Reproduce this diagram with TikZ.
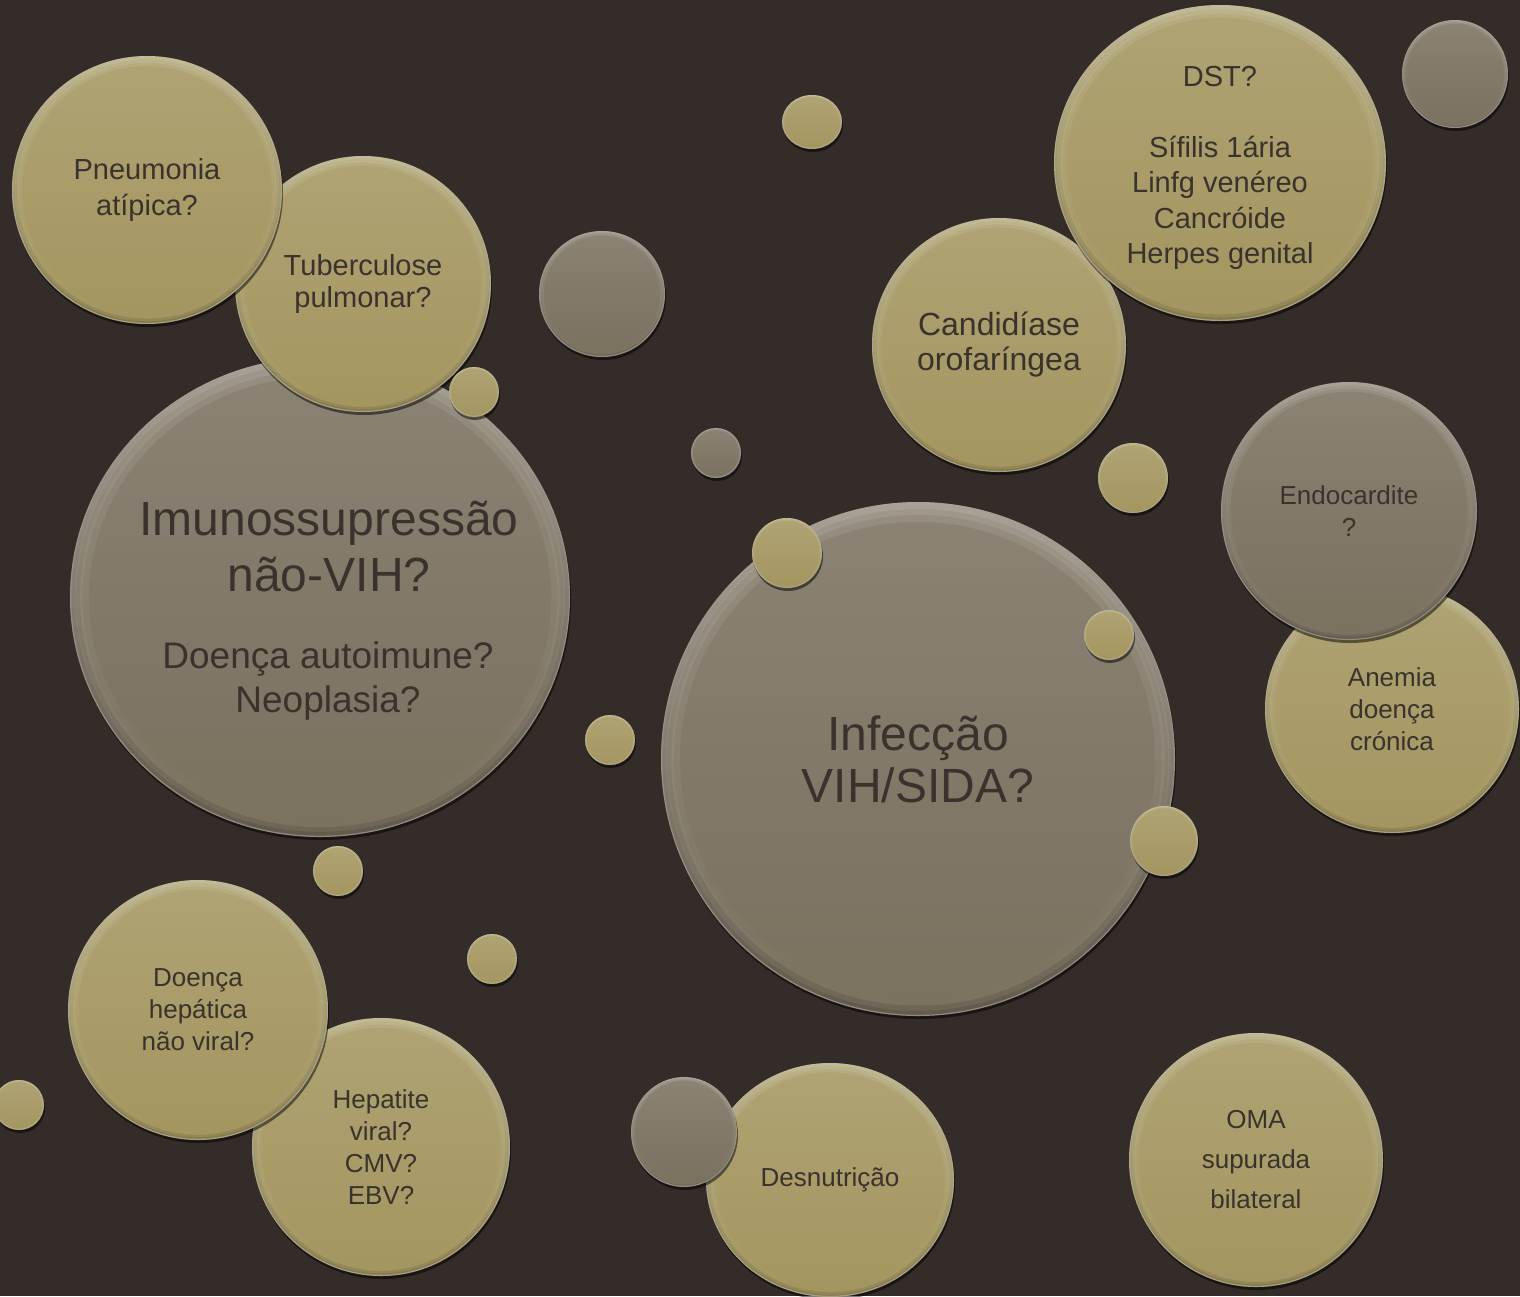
\documentclass[tikz,border=0pt]{standalone}
\usepackage{fontspec}
\setmainfont{Liberation Sans}
\usetikzlibrary{shapes.geometric,shadows,fadings}

\definecolor{bg}{RGB}{52,44,40}
\definecolor{gold}{RGB}{164,150,96}
\definecolor{stone}{RGB}{122,113,95}
\definecolor{ink}{RGB}{58,50,44}

% The picture runs with y pointing down, so a fading named "south"
% lies at the top of the page and "north" at the bottom.
\tikzset{
  % a bevelled bubble: fill colour, x radius, y radius
  ball/.style n args={3}{ellipse, inner sep=0pt, outer sep=0pt, align=center,
    text=ink, fill=#1, minimum width={2*#2pt}, minimum height={2*#3pt},
    drop shadow={shadow xshift=1pt, shadow yshift=-3pt, opacity=.5, fill=black},
    path picture={
      % soft light on the upper half
      \fill[white, opacity=.13, path fading=south]
        (path picture bounding box.south west) rectangle (path picture bounding box.north east);
      % graded light bevel along the upper rim
      \foreach \f in {0.025,0.05,0.075}{
        \draw[white, opacity=.1, line width={2*\f*#2pt}, path fading=south]
          (path picture bounding box.center) ellipse [x radius={#2pt}, y radius={#3pt}];
      }
      % graded shade inside the lower rim
      \foreach \f in {0.02,0.04}{
        \draw[black, opacity=.1, line width={2*\f*#2pt}, path fading=north]
          (path picture bounding box.center) ellipse [x radius={#2pt}, y radius={#3pt}];
      }
      % thin bright edge at the very bottom
      \draw[white, opacity=.3, line width=2.4pt, path fading=north]
        (path picture bounding box.center) ellipse [x radius={#2pt}, y radius={#3pt}];
    }},
  gold ball/.style 2 args={ball={gold}{#1}{#2}},
  stone ball/.style 2 args={ball={stone}{#1}{#2}},
  label text/.style={text=ink, align=center, inner sep=0pt},
  f26/.style={font=\fontsize{26}{32}\selectfont},
  f26o/.style={font=\fontsize{26}{40}\selectfont},
  f29/.style={font=\fontsize{29}{35.5}\selectfont},
  f29b/.style={font=\fontsize{29}{32}\selectfont},
  f32/.style={font=\fontsize{32}{35}\selectfont},
  f37/.style={font=\fontsize{37}{44}\selectfont},
  f48/.style={font=\fontsize{48}{52}\selectfont},
  f48w/.style={font=\fontsize{48}{56}\selectfont},
}

\begin{document}
\begin{tikzpicture}[x=1pt, y=-1pt]
  \fill[bg] (0,0) rectangle (1520,1296);
  \useasboundingbox (0,0) rectangle (1520,1296);

  % upper left group
  \node[stone ball={250}{240}] (imuno) at (320,597) {};
  \node[label text, f48w] (imunotxt) at (329,547) {Imunossupressão\\não-VIH?};
  \node[label text, f37] (imunosub) at (328,681) {Doença autoimune?\\Neoplasia?};
  \node[gold ball={128}{128}, f29b] (tuberc) at (363,284) {Tuberculose\\pulmonar?};
  \node[gold ball={135}{134}, f29] (pneu) at (147,190) {Pneumonia\\atípica?};
  \node[gold ball={25}{25}] (b1) at (474,392) {};
  \node[stone ball={63}{63}] (s1) at (602,294) {};
  \node[gold ball={30}{27}] (b2) at (812,122) {};

  % upper right group
  \node[gold ball={127}{127}, f32] (candi) at (999,345) {Candidíase\\orofaríngea};
  \node[gold ball={166}{158}] (dst) at (1220,163) {};
  \node[label text, f29] (dsttxt) at (1220,168)
    {DST?\\[35.5pt]Sífilis 1ária\\Linfg venéreo\\Cancróide\\Herpes genital};
  \node[stone ball={53}{54}] (s2) at (1455,74) {};
  \node[stone ball={25}{25}] (s3) at (716,453) {};
  \node[gold ball={35}{35}] (b3) at (1133,478) {};
  \node[gold ball={127}{124}, f26] (anemia) at (1392,709) {Anemia\\doença\\crónica};
  \node[stone ball={128}{129}, f26] (endo) at (1349,511) {Endocardite\\?};

  % centre
  \node[stone ball={257}{257}, f48] (vih) at (918,759) {Infecção\\VIH/SIDA?};
  \node[gold ball={35}{35}] (b4) at (787,553) {};
  \node[gold ball={25}{25}] (b5) at (1109,635) {};
  \node[gold ball={34}{35}] (b6) at (1164,841) {};
  \node[gold ball={25}{25}] (b7) at (610,740) {};
  \node[gold ball={25}{25}] (b8) at (338,871) {};
  \node[gold ball={25}{25}] (b9) at (492,959) {};

  % lower row
  \node[gold ball={129}{129}, f26] (hepat) at (381,1147) {Hepatite\\viral?\\CMV?\\EBV?};
  \node[gold ball={130}{130}, f26] (hepnv) at (198,1010) {Doença\\hepática\\não viral?};
  \node[gold ball={25}{25}] (b10) at (19,1105) {};
  \node[gold ball={124}{117}, f26] (desn) at (830,1180) {Desnutrição};
  \node[stone ball={53}{55}] (s4) at (684,1132) {};
  \node[gold ball={127}{127}, f26o] (oma) at (1256,1160) {OMA\\supurada\\bilateral};
\end{tikzpicture}
\end{document}
